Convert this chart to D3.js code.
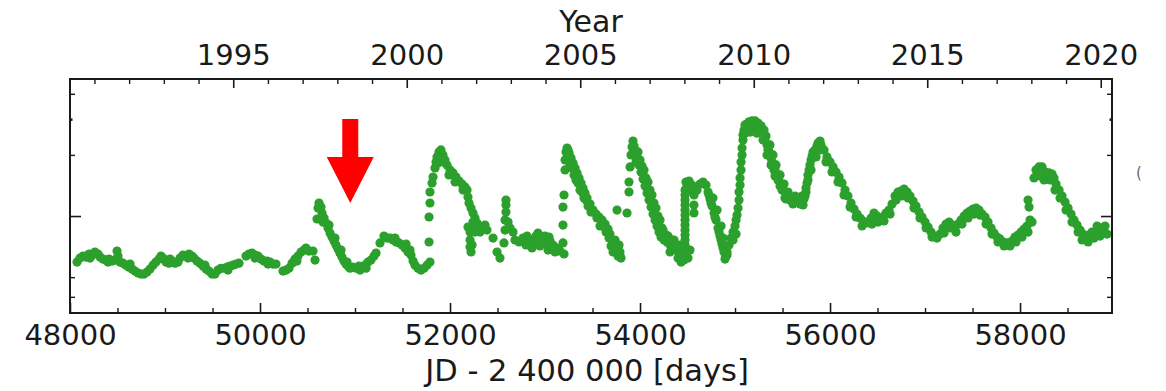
<!DOCTYPE html>
<html><head><meta charset="utf-8">
<script src="https://cdn.jsdelivr.net/npm/d3@7/dist/d3.min.js"></script>
<style>html,body{margin:0;padding:0;background:#fff;}svg{display:block;font-family:"DejaVu Sans",sans-serif;}</style>
</head><body><svg id="c" width="1166" height="391"></svg>
<script>
// ---- data: [JD - 2400000, relative flux] ----
const obs1990s = [[48074,0.593],[48105,0.621],[48137,0.635],[48168,0.628],[48200,0.650],[48232,0.642],[48263,0.665],[48295,0.650],[48316,0.628],[48347,0.614],[48379,0.607],[48411,0.614],[48442,0.600],[48474,0.607],[48495,0.672],[48505,0.635],[48526,0.593],[48558,0.586],[48589,0.573],[48621,0.560],[48653,0.548],[48684,0.536],[48716,0.524],[48747,0.518],[48779,0.518],[48811,0.530],[48842,0.548],[48874,0.573],[48905,0.593],[48937,0.614],[48958,0.635],[48979,0.621],[49011,0.593],[49042,0.586],[49074,0.600],[49105,0.586],[49137,0.593],[49158,0.621],[49189,0.642],[49221,0.635],[49253,0.650],[49284,0.635],[49305,0.621],[49337,0.600],[49368,0.586],[49400,0.567],[49432,0.548],[49463,0.536],[49495,0.518],[49526,0.518],[49558,0.542],[49589,0.553],[49621,0.553],[49653,0.560],[49684,0.567],[49716,0.573],[49747,0.580],[49779,0.586],[49853,0.635],[49884,0.650],[49916,0.657],[49947,0.642],[49979,0.635],[50011,0.614],[50042,0.600],[50074,0.600],[50105,0.593],[50137,0.580],[50168,0.580],[50242,0.536],[50274,0.542],[50305,0.553],[50337,0.586],[50368,0.614],[50400,0.635],[50432,0.665],[50463,0.680],[50484,0.696],[50516,0.672],[50558,0.672],[50579,0.607],
 [48211,0.621],[48400,0.593],[48632,0.580],[49053,0.614],[49242,0.621],[49421,0.573],[49663,0.542],[49947,0.621],[50084,0.580],[50389,0.600]];
const obs1997 = [[50600,0.967],[50611,1.095],[50621,1.159],[50642,1.107],[50653,1.035],[50674,0.978],[50695,0.924],[50716,0.873],[50737,0.825],[50758,0.788],[50779,0.753],[50800,0.720],[50821,0.688],[50842,0.657],[50863,0.628],[50884,0.600],[50905,0.580],[50926,0.567],[50947,0.553],[50979,0.560],[51011,0.553],[51042,0.567],[51074,0.560],[51105,0.573],[51137,0.593],[51168,0.607],[51200,0.635],[51221,0.657],[51263,0.737],[51305,0.797],[51337,0.779],[51368,0.779],[51400,0.762],[51432,0.745],[51463,0.737],[51495,0.720],[51526,0.696],[51558,0.665],[51589,0.642],[51611,0.600],[51632,0.573],[51663,0.553],[51695,0.542],[51726,0.553],[51758,0.573],[51789,0.593],
 [50663,0.934],[50726,0.903],[50789,0.779],[50853,0.680],[50916,0.593],[51053,0.542],[51116,0.553],[51421,0.779],[51537,0.728],[51579,0.680]];
const obs2000s = [[51779,0.745],[51779,0.989],[51789,1.159],[51789,1.313],[51811,1.455],[51821,1.557],[51842,1.725],[51853,1.846],[51863,1.954],[51884,2.068],[51905,2.116],[51926,1.999],[51947,1.889],[51968,1.785],[52000,1.686],[52032,1.630],[52063,1.557],[52095,1.488],[52126,1.438],[52158,1.390],[52179,1.343],[52189,1.241],[52200,1.159],[52221,1.095],[52242,1.035],[52263,0.978],[52284,0.924],[52305,0.893],[52211,0.834],[52211,0.762],[52211,0.704],[52221,0.665],[52337,0.873],[52368,0.903],[52389,0.853],[52453,0.779],[52495,0.665],[52526,0.621],[52568,0.737],[52579,0.853],[52579,0.956],[52589,1.046],[52589,1.133],[52589,1.199],[52611,0.934],[52632,0.873],[52663,0.834],[52684,0.762],[52726,0.745],[52768,0.779],[52811,0.797],[52842,0.762],[52874,0.737],[52905,0.797],[52926,0.825],[52958,0.779],[52989,0.745],[53021,0.728],[53053,0.753],[53084,0.720],[53126,0.696],[53158,0.672],[53200,0.650],
 [51895,1.932],[51874,1.826],[51937,1.846],[51989,1.593],[52053,1.471],[52137,1.343],[52242,0.934],[52189,0.883],[52274,0.873],[52832,0.728],[52958,0.737],[53042,0.788],
 [52263,0.834],[52316,0.834],[52232,0.720],[52800,0.720],[52863,0.696],[52947,0.712],[53032,0.680],[53105,0.665],[53000,0.797]];
const obs2003 = [[53189,0.737],[53189,0.903],[53189,1.107],[53200,1.269],[53211,1.686],[53211,1.889],[53221,2.068],[53232,2.16],[53253,2.045],[53274,1.932],[53295,1.826],[53316,1.725],[53337,1.630],[53358,1.540],[53379,1.455],[53400,1.374],[53421,1.298],[53442,1.227],[53474,1.146],[53505,1.070],[53537,1.023],[53568,0.989],[53600,0.956],[53632,0.913],[53663,0.863],[53684,0.815],[53705,0.762],[53726,0.712],[53747,0.672],[53768,0.635],[53758,1.070],[53863,1.035],
 [53242,1.889],[53263,1.785],[53305,1.593],[53347,1.455],[53389,1.313],[53432,1.199],[53484,1.046],[53579,0.893],[53642,0.834],[53695,0.712],[53758,0.680],[53779,0.720],[53789,0.665],[53800,0.621],[53737,0.762],
 [53242,2.116],[53284,1.725],[53326,1.505],[53368,1.343],[53410,1.227],[53453,1.120],[53547,0.978],[53611,0.893],[53674,0.779],[53716,0.665],[53768,0.712],[53789,0.635]];
const obs2006 = [[53884,1.313],[53884,1.471],[53895,1.745],[53905,1.999],[53916,2.19],[53926,2.34],[53947,2.116],[53968,1.932],[53989,1.785],[54011,1.648],[54032,1.522],[54053,1.406],[54074,1.298],[54095,1.199],[54116,1.107],[54137,1.023],[54158,0.956],[54179,0.893],[54200,0.834],[54221,0.788],[54253,0.762],[54284,0.745],[54316,0.720],[54347,0.704],[54379,0.680],[54411,0.657],[54442,0.628],[54463,0.607],[54474,0.680],[54474,0.762],[54474,0.853],[54474,0.956],[54474,1.070],[54474,1.199],[54474,1.343],[54484,1.471],[54516,1.488],[54547,1.422],[54568,1.269],[54568,1.133],[54568,1.035],[54600,1.343],[54632,1.438],[54663,1.471],[54695,1.422],[54716,1.313],[54737,1.213],[54758,1.120],[54779,1.035],[54800,0.956],[54821,0.873],[54842,0.797],[54863,0.728],[54884,0.665],[54895,0.614],
 [53937,1.999],[53958,1.846],[54000,1.889],[54042,1.686],[54084,1.471],[54126,1.269],[54168,1.095],[54211,0.956],[54242,0.853],[54295,0.797],[54358,0.762],[54421,0.720],[54400,0.621],[54316,0.665],[54516,1.343],[54768,1.227],[54811,1.070],[54853,0.893],[54874,0.779],[54916,0.642],
 [53937,2.21],[53979,2.068],[54021,1.764],[54063,1.540],[54105,1.343],[54147,1.159],[54189,1.000],[54232,0.873],[54274,0.806],[54337,0.762],[54400,0.696],[54453,0.665],[54432,0.593],
 [54474,0.720],[54474,0.806],[54474,0.903],[54474,1.011],[54474,1.133],[54474,1.269],[54495,1.406],[54505,0.621],[54526,0.680],
 [54726,1.269],[54747,1.159],[54789,0.989],[54832,0.834],[54853,0.762],[54874,0.696],[54905,0.635]];
const obs2009 = [[54916,0.665],[54937,0.720],[54958,0.779],[54979,0.834],[55000,0.893],[55021,1.011],[55042,1.199],[55053,1.422],[55063,1.686],[55074,1.999],[55084,2.37],[55095,2.65],[55116,2.81],[55147,2.91],[55179,2.94],[55211,2.94],[55242,2.87],[55274,2.78],[55305,2.65],[55326,2.48],[55337,2.24],[55358,2.068],[55379,1.932],[55400,1.805],[55421,1.686],[55442,1.575],[55463,1.488],[55484,1.406],[55505,1.343],[55537,1.284],[55568,1.241],[55600,1.213],[55632,1.199],[55663,1.186],[55695,1.186],[55726,1.213],
 [55105,2.56],[55137,2.71],[55179,2.75],[55221,2.71],[55263,2.62],[55368,2.24],[55400,1.999],[55432,1.785],[55474,1.593],[55516,1.438],[55558,1.313],[55632,1.255],[55705,1.255],[54979,0.762],[55011,0.815],
 [55011,0.956],[55032,1.095],[55042,1.313],[55053,1.540],[55063,1.846],[55074,2.16],[55084,2.51],[55105,2.81],
 [55316,2.37],[55347,2.116],[55389,1.846],[55410,1.686],[55453,1.505],[55495,1.343],[55526,1.227],[55579,1.199],[55684,1.146],
 [55158,2.59],[55232,2.56],[55295,2.37],[55337,1.999],[55379,1.785],[55421,1.575],[55474,1.406],[55537,1.213],[55610,1.146],[55716,1.133]];
const obs2011 = [[55747,1.313],[55758,1.455],[55768,1.593],[55789,1.785],[55811,1.976],[55842,2.116],[55874,2.29],[55905,2.24],[55937,2.116],[55968,1.954],[56000,1.846],[56032,1.745],[56063,1.648],[56095,1.557],[56126,1.455],[56158,1.343],[56189,1.255],[56221,1.159],[56253,1.083],[56284,1.023],[56316,0.978],[56347,0.945],[56389,0.924],[56432,0.978],[56463,1.035],[56495,1.000],[56526,0.967],[56558,0.989],[56589,1.035],[56621,1.070],[56653,1.146],[56684,1.255],[56716,1.313],[56747,1.328],[56779,1.359],[56811,1.313],[56842,1.255],[56874,1.186],[56905,1.120],[56937,1.046],[56968,0.989],[57000,0.934],[57032,0.883],[57063,0.834],[57095,0.797],[57126,0.779],[57158,0.815],[57189,0.873],[57221,0.913],[57253,0.934],[57284,0.903],[57316,0.883],[57347,0.913],[57379,0.956],[57411,1.000],[57442,1.035],[57474,1.058],[57505,1.083],[57537,1.095],[57568,1.070],[57600,1.023],[57632,0.989],[57663,0.934],[57695,0.873],[57726,0.825],[57758,0.788],[57789,0.771],[57821,0.745],[57853,0.737],[57884,0.737],[57916,0.753],[57947,0.788],[57979,0.806],[58011,0.834],[58042,0.863],[58074,0.893],[58105,0.956],[58084,1.199],[58095,1.107],[58147,1.540],[58168,1.686],[58200,1.745],[58232,1.745],[58263,1.648],[58305,1.630],[58337,1.611],[58358,1.540],[58379,1.438],[58411,1.343],[58442,1.255],[58474,1.172],[58505,1.095],[58537,1.023],[58568,0.956],[58600,0.903],[58632,0.853],[58663,0.815],[58695,0.788],[58726,0.806],[58758,0.834],[58789,0.825],[58821,0.853],[58853,0.873],[58884,0.834],[58916,0.815],
 [55800,1.686],[55853,1.954],[55895,2.116],[55958,1.846],[56021,1.648],[56084,1.471],[56147,1.269],[56211,1.107],[56274,0.989],[56337,0.893],[56442,0.913],[56505,0.934],[56568,0.945],[56632,1.023],[56695,1.199],[56758,1.255],[56821,1.227],[56884,1.095],[56947,0.978],[57011,0.873],[57074,0.788],[57200,0.825],[57263,0.873],[57326,0.834],[57389,0.913],[57453,0.978],[57516,1.023],[57579,1.011],[57642,0.913],[57705,0.815],[57768,0.745],[57832,0.712],[57895,0.712],[57958,0.745],[58021,0.788],[58084,0.834],[58126,0.934],[58211,1.575],[58253,1.505],[58316,1.505],[58368,1.343],[58421,1.227],[58484,1.070],[58547,0.934],[58611,0.834],[58653,0.762],[58716,0.745],[58779,0.779],[58842,0.797],[58895,0.893],[58811,0.893],
 [55737,1.255],[55747,1.374],[55768,1.505],[55779,1.686],[55800,1.889],[55821,2.068],[55863,2.21],[55895,2.34]];

// ---- ticks ----
const jdMajor = [48000, 50000, 52000, 54000, 56000, 58000];
const jdMinor = [48500, 49000, 49500, 50500, 51000, 51500, 52500, 53000, 53500, 54500, 55000, 55500, 56500, 57000, 57500, 58500];
const yearMajor = [1995, 2000, 2005, 2010, 2015, 2020];
const yearMinor = [1991,1992,1993,1994,1996,1997,1998,1999,2001,2002,2003,2004,2006,2007,2008,2009,2011,2012,2013,2014,2016,2017,2018,2019];
const fluxMajor = [1];
const fluxMinor = [0.4, 0.5, 2, 4];
const fluxTiny = [3];
const arrowAt = {jd: 50950, flux: 1.16};

// ---- layout ----
const L = 70, R = 1112, T = 79, B = 313;
const svg = d3.select("#c");
const x = d3.scaleLinear().domain([48000, 58968]).range([L, R]);
const y = d3.scaleLog().domain([0.333, 4.73]).range([B, T]);
const yearToJD = yr => 51544.5 + (yr - 2000) * 365.25;
const xYear = d3.scaleLinear().domain([2000, 2020]).range([x(yearToJD(2000)), x(yearToJD(2020))]);

// points
const allObs = [].concat(obs1990s, obs1997, obs2000s, obs2003, obs2006, obs2009, obs2011);
svg.append("g").selectAll("circle").data(allObs).join("circle")
  .attr("cx", d => x(d[0])).attr("cy", d => y(d[1])).attr("r", 4.6)
  .attr("fill", "#2ca02c");

const col = "#1a1a1a";
function style(g, sw) {
  g.select(".domain").remove();
  g.selectAll(".tick line").attr("stroke", col).attr("stroke-width", sw);
  g.selectAll(".tick text").attr("fill", col).attr("font-size", 29).attr("font-family", "DejaVu Sans");
}
// bottom
svg.append("g").attr("transform", `translate(0,${B})`)
  .call(d3.axisBottom(x).tickValues(jdMajor).tickFormat(d3.format("d")).tickSizeInner(-10).tickSizeOuter(0).tickPadding(11))
  .call(g => style(g, 1.6));
svg.append("g").attr("transform", `translate(0,${B})`)
  .call(d3.axisBottom(x).tickValues(jdMinor).tickFormat("").tickSizeInner(-5).tickSizeOuter(0))
  .call(g => style(g, 1.4));
// top (years)
svg.append("g").attr("transform", `translate(0,${T})`)
  .call(d3.axisTop(xYear).tickValues(yearMajor).tickFormat(d3.format("d")).tickSizeInner(-9).tickSizeOuter(0).tickPadding(14))
  .call(g => style(g, 1.6));
svg.append("g").attr("transform", `translate(0,${T})`)
  .call(d3.axisTop(xYear).tickValues(yearMinor).tickFormat("").tickSizeInner(-5).tickSizeOuter(0))
  .call(g => style(g, 1.4));
// left/right
[[d3.axisLeft, L], [d3.axisRight, R]].forEach(([ax, pos]) => {
  svg.append("g").attr("transform", `translate(${pos},0)`)
    .call(ax(y).tickValues(fluxMajor).tickFormat("").tickSizeInner(-11).tickSizeOuter(0)).call(g => style(g, 1.6));
  svg.append("g").attr("transform", `translate(${pos},0)`)
    .call(ax(y).tickValues(fluxMinor).tickFormat("").tickSizeInner(-5).tickSizeOuter(0)).call(g => style(g, 1.4));
  svg.append("g").attr("transform", `translate(${pos},0)`)
    .call(ax(y).tickValues(fluxTiny).tickFormat("").tickSizeInner(-2.5).tickSizeOuter(0)).call(g => style(g, 2.5));
});
// frame
svg.append("rect").attr("x", L).attr("y", T).attr("width", R - L).attr("height", B - T)
  .attr("fill", "none").attr("stroke", col).attr("stroke-width", 2);

// axis labels
svg.append("text").attr("x", (L + R) / 2).attr("y", 32).attr("text-anchor", "middle")
  .attr("font-size", 30).attr("fill", col).text("Year");
svg.append("text").attr("x", (L + R) / 2 - 4).attr("y", 381).attr("text-anchor", "middle")
  .attr("font-size", 30.5).attr("fill", col).text("JD - 2 400 000 [days]");
svg.append("text").attr("x", 1136).attr("y", 178).attr("font-size", 15).attr("fill", "#666").text("(");

// red arrow annotation
const ax0 = x(arrowAt.jd), ay0 = y(arrowAt.flux);
svg.append("path")
  .attr("d", `M${ax0},${ay0} L${ax0 - 23.5},${ay0 - 46} L${ax0 - 8},${ay0 - 46} L${ax0 - 8},${ay0 - 84} L${ax0 + 8},${ay0 - 84} L${ax0 + 8},${ay0 - 46} L${ax0 + 23.5},${ay0 - 46} Z`)
  .attr("fill", "#ff0000");
</script></body></html>
